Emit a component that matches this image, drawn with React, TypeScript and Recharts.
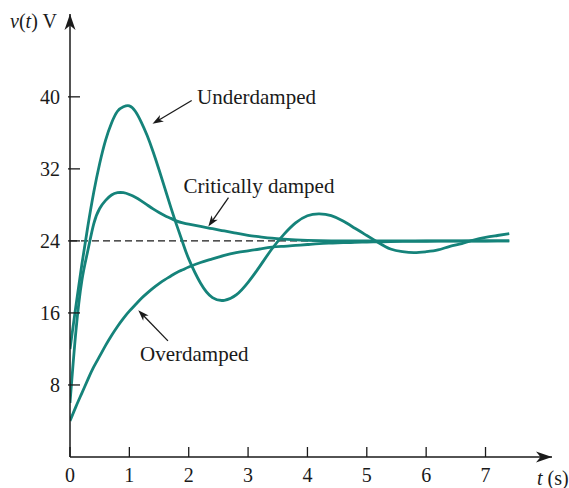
import { LineChart, Line, XAxis, YAxis, ReferenceLine, ReferenceDot } from 'recharts';

// time samples (s), shared by the three responses
const TIMES = [
  0, 0.1, 0.2, 0.3, 0.4, 0.5, 0.6, 0.7, 0.8, 0.9, 1.0, 1.1, 1.2, 1.3, 1.4, 1.5, 1.6, 1.7, 1.8, 1.9, 2.0,
  2.2, 2.4, 2.6, 2.8, 3.0, 3.2, 3.4, 3.6, 3.8, 4.0, 4.2, 4.4, 4.6, 4.8, 5.0, 5.2, 5.4, 5.6, 5.8, 6.0, 6.2, 6.4,
  6.6, 6.8, 7.0, 7.2, 7.4,
];

const UNDERDAMPED = [
  12, 16.8, 21.4, 25.6, 29.4, 32.6, 35.2, 37.1, 38.4, 38.9, 39.0, 38.4, 37.2, 35.7, 33.9, 31.9, 29.8, 27.7,
  25.7, 23.8, 22.0, 19.3, 17.7, 17.4, 18.0, 19.4, 21.2, 23.1, 24.7, 26.0, 26.8, 27.0, 26.8, 26.2, 25.4, 24.6, 23.8,
  23.1, 22.8, 22.7, 22.8, 23.0, 23.4, 23.7, 24.1, 24.4, 24.6, 24.8,
];

const CRITICAL = [
  6.0, 14.0, 19.6, 22.9, 25.9, 27.6, 28.5, 29.1, 29.35, 29.35, 29.15, 28.85, 28.45, 28.0, 27.55, 27.15, 26.8, 26.5,
  26.2, 26.0, 25.85, 25.6, 25.35, 25.1, 24.85, 24.62, 24.45, 24.3, 24.2, 24.12, 24.06, 24.02, 24, 24, 24, 24, 24, 24,
  24, 24, 24, 24, 24, 24, 24, 24, 24, 24,
];

const OVERDAMPED = [
  4.0, 5.6, 7.1, 8.6, 10.0, 11.2, 12.4, 13.5, 14.5, 15.4, 16.2, 16.9, 17.6, 18.2, 18.75, 19.25, 19.7, 20.1,
  20.5, 20.8, 21.1, 21.6, 22.0, 22.4, 22.7, 22.9, 23.1, 23.3, 23.4, 23.5, 23.6, 23.7, 23.75, 23.8, 23.85, 23.87,
  23.9, 23.92, 23.94, 23.95, 23.96, 23.97, 23.98, 23.98, 23.99, 23.99, 24.0, 24.0,
];

const X_TICKS = [0, 1, 2, 3, 4, 5, 6, 7];
const Y_TICKS = [8, 16, 24, 32, 40];
const X_MAX = 8.12;
const Y_MAX = 49.2;
const FINAL_VALUE = 24;

// annotation text anchors and arrows, in (t, v) units
const NOTE_TEXTS = ['Underdamped', 'Critically damped', 'Overdamped'];
const NOTE_TEXT_AT = [
  [2.14, 39.2],
  [1.91, 29.3],
  [1.18, 10.7],
];
const NOTE_ARROWS = [
  [2.05, 39.6, 1.39, 37.0],
  [2.67, 28.8, 2.33, 25.6],
  [1.65, 12.9, 1.15, 16.3],
];

const data = TIMES.map((t, i) => ({
  t,
  under: UNDERDAMPED[i],
  critical: CRITICAL[i],
  over: OVERDAMPED[i],
}));

const TEAL = '#15837a';
const INK = '#1a1a1a';
const FONT = '"Liberation Serif", "Times New Roman", serif';

const headPath = (x1: number, y1: number, x2: number, y2: number, len: number, half: number) => {
  const d = Math.hypot(x2 - x1, y2 - y1) || 1;
  const ux = (x2 - x1) / d;
  const uy = (y2 - y1) / d;
  const nx = -uy;
  const ny = ux;
  const bx = x2 - ux * len;
  const by = y2 - uy * len;
  const mx = x2 - ux * len * 0.72;
  const my = y2 - uy * len * 0.72;
  return `M${x2},${y2}L${bx + nx * half},${by + ny * half}L${mx},${my}L${bx - nx * half},${by - ny * half}Z`;
};

const NoteArrow = (props: any) => {
  const { x1, y1, x2, y2 } = props;
  const d = Math.hypot(x2 - x1, y2 - y1) || 1;
  const ex = x2 - ((x2 - x1) / d) * 7;
  const ey = y2 - ((y2 - y1) / d) * 7;
  return (
    <g>
      <line x1={x1} y1={y1} x2={ex} y2={ey} stroke={INK} strokeWidth={1.3} />
      <path d={headPath(x1, y1, x2, y2, 11, 3.8)} fill={INK} />
    </g>
  );
};

const XTick = (props: any) => {
  const { x, y, payload } = props;
  return (
    <g>
      <line x1={x} x2={x} y1={y} y2={y - 10} stroke={INK} strokeWidth={1.3} />
      <text x={x} y={y + 25} textAnchor="middle" fontFamily={FONT} fontSize={20} fill={INK}>
        {payload.value}
      </text>
    </g>
  );
};

const YTick = (props: any) => {
  const { x, y, payload } = props;
  return (
    <g>
      <line x1={x - 2} x2={x + 10} y1={y} y2={y} stroke={INK} strokeWidth={1.3} />
      <text x={x - 10} y={y + 7} textAnchor="end" fontFamily={FONT} fontSize={20} fill={INK}>
        {payload.value}
      </text>
    </g>
  );
};

const YTitle = ({ viewBox }: any) => {
  const vb = viewBox || { x: 0, y: 14 };
  return (
    <text x={vb.x + 10} y={vb.y + 14} fontFamily={FONT} fontSize={20} fill={INK}>
      <tspan fontStyle="italic">v</tspan>
      <tspan>(</tspan>
      <tspan fontStyle="italic">t</tspan>
      <tspan>) V</tspan>
    </text>
  );
};

const XTitle = ({ viewBox }: any) => {
  const vb = viewBox || { x: 70, y: 457, width: 482 };
  return (
    <text x={vb.x + vb.width - 15} y={vb.y + 28} fontFamily={FONT} fontSize={20} fill={INK}>
      <tspan fontStyle="italic">t</tspan>
      <tspan> (s)</tspan>
    </text>
  );
};

export default function App() {
  return (
    <div style={{ position: 'absolute', left: 0, top: 0, width: 569, height: 488, background: '#fff' }}>
      <LineChart width={569} height={488} data={data} margin={{ top: 14, right: 17, bottom: 0, left: 0 }}>
        <XAxis
          dataKey="t"
          type="number"
          domain={[0, X_MAX]}
          ticks={X_TICKS}
          allowDataOverflow
          height={31}
          tickSize={0}
          tickMargin={0}
          tickLine={false}
          tick={<XTick />}
          axisLine={{ stroke: INK, strokeWidth: 1.5 }}
          label={{ content: (p: any) => <XTitle viewBox={p.viewBox} /> }}
        />
        <YAxis
          type="number"
          domain={[0, Y_MAX]}
          ticks={Y_TICKS}
          allowDataOverflow
          width={70}
          tickSize={0}
          tickMargin={0}
          tickLine={false}
          tick={<YTick />}
          axisLine={{ stroke: INK, strokeWidth: 1.5 }}
          label={{ content: (p: any) => <YTitle viewBox={p.viewBox} /> }}
        />
        <ReferenceLine
          segment={[
            { x: 0, y: FINAL_VALUE },
            { x: TIMES[TIMES.length - 1], y: FINAL_VALUE },
          ]}
          stroke={INK}
          strokeWidth={1.2}
          strokeDasharray="7 4"
        />
        <Line type="natural" dataKey="under" stroke={TEAL} strokeWidth={2.8} dot={false} isAnimationActive={false} />
        <Line type="natural" dataKey="critical" stroke={TEAL} strokeWidth={2.8} dot={false} isAnimationActive={false} />
        <Line type="natural" dataKey="over" stroke={TEAL} strokeWidth={2.8} dot={false} isAnimationActive={false} />
        {NOTE_ARROWS.map(([t1, v1, t2, v2], i) => (
          <ReferenceLine
            key={`arrow-${i}`}
            segment={[
              { x: t1, y: v1 },
              { x: t2, y: v2 },
            ]}
            ifOverflow="visible"
            shape={(p: any) => <NoteArrow {...p} />}
          />
        ))}
        {NOTE_TEXTS.map((txt, i) => (
          <ReferenceDot
            key={`note-${i}`}
            x={NOTE_TEXT_AT[i][0]}
            y={NOTE_TEXT_AT[i][1]}
            r={0}
            ifOverflow="visible"
            shape={(p: any) => (
              <text x={p.cx} y={p.cy} fontFamily={FONT} fontSize={21} fill={INK}>
                {txt}
              </text>
            )}
          />
        ))}
        <ReferenceDot
          x={X_MAX}
          y={0}
          r={0}
          ifOverflow="visible"
          shape={(p: any) => <path d={headPath(p.cx - 1, p.cy, p.cx, p.cy, 16, 5.5)} fill={INK} />}
        />
        <ReferenceDot
          x={0}
          y={Y_MAX}
          r={0}
          ifOverflow="visible"
          shape={(p: any) => <path d={headPath(p.cx, p.cy + 1, p.cx, p.cy, 16, 5.5)} fill={INK} />}
        />
      </LineChart>
    </div>
  );
}
